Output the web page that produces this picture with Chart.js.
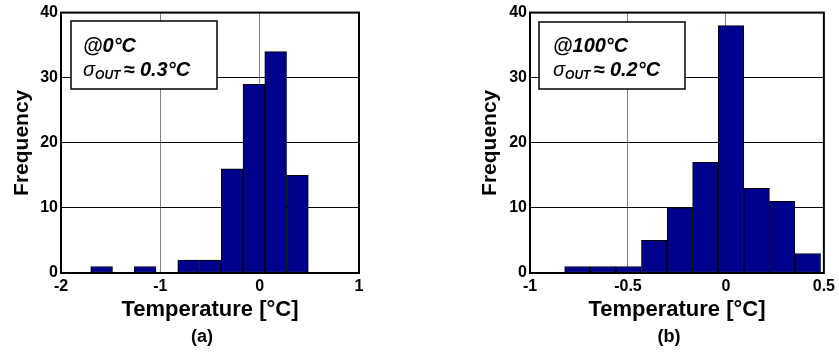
<!DOCTYPE html>
<html><head><meta charset="utf-8">
<script src="https://cdn.jsdelivr.net/npm/chart.js@4"></script>
<style>
html,body{margin:0;padding:0;background:#fff;width:839px;height:356px;overflow:hidden}
canvas{position:absolute;top:0}
#ca{left:0}
#cb{left:420px}
</style></head><body>
<canvas id="ca" width="420" height="356"></canvas>
<canvas id="cb" width="419" height="356"></canvas>
<script>
// ---- data ----
const binsA = [-1.591, -1.153, -0.715, -0.496, -0.277, -0.058, 0.161, 0.380];
const freqA = [1, 1, 2, 2, 16, 29, 34, 15];
const binsB = [-0.758, -0.627, -0.497, -0.366, -0.235, -0.105, 0.026, 0.157, 0.287, 0.418];
const freqB = [1, 1, 1, 5, 10, 17, 38, 13, 11, 3];
const xTicksA = [-2, -1, 0, 1];
const xTicksB = [-1, -0.5, 0, 0.5];
const yTicks = [0, 10, 20, 30, 40];
const xTitle = 'Temperature [°C]';
const yTitle = 'Frequency';
const condA = '@0°C', sigmaA = '0.3°C', captionA = '(a)';
const condB = '@100°C', sigmaB = '0.2°C', captionB = '(b)';

const FONT = '"Liberation Sans", Arial, Helvetica, sans-serif';
Chart.defaults.font.family = FONT;
Chart.defaults.color = '#000';

const framePlugin = {
  id: 'frame',
  afterDatasetsDraw(chart, args, o) {
    const ctx = chart.ctx, a = chart.chartArea;
    ctx.save();
    ctx.strokeStyle = '#000';
    ctx.lineWidth = 2;
    ctx.strokeRect(a.left, a.top, a.right - a.left, a.bottom - a.top);
    // annotation box
    ctx.fillStyle = '#fff';
    ctx.fillRect(o.bx, o.by, o.bw, o.bh);
    ctx.lineWidth = 1.5;
    ctx.strokeRect(o.bx, o.by, o.bw, o.bh);
    ctx.fillStyle = '#000';
    ctx.textAlign = 'left';
    ctx.textBaseline = 'alphabetic';
    ctx.font = 'italic bold 20px ' + FONT;
    ctx.fillText(o.cond, o.tx, o.b1);
    ctx.font = 'italic 20px ' + FONT;
    ctx.fillText('σ', o.tx, o.b2);
    let x = o.tx + ctx.measureText('σ').width;
    ctx.font = 'italic bold 12px ' + FONT;
    ctx.fillText('OUT', x, o.b2 + 3);
    x += ctx.measureText('OUT').width + 3;
    ctx.font = 'italic bold 20px ' + FONT;
    ctx.fillText('≈ ' + o.sigma, x, o.b2);
    // caption
    ctx.font = 'bold 18px ' + FONT;
    ctx.textAlign = 'center';
    ctx.textBaseline = 'middle';
    ctx.fillText(o.caption, o.cx, o.cy);
    ctx.restore();
  }
};

function makeChart(id, bins, freq, xTicks, pad, yW, ann) {
  return new Chart(document.getElementById(id), {
    type: 'bar',
    data: {
      datasets: [{
        data: bins.map((b, i) => ({x: b, y: freq[i]})),
        backgroundColor: 'rgb(0,0,143)',
        borderColor: '#000',
        borderWidth: 1,
        borderSkipped: false,
        barPercentage: 1,
        categoryPercentage: 1
      }]
    },
    options: {
      responsive: false,
      animation: false,
      layout: {padding: pad},
      plugins: {legend: {display: false}, tooltip: {enabled: false}, frame: ann},
      scales: {
        x: {
          type: 'linear',
          offset: false,
          min: xTicks[0],
          max: xTicks[xTicks.length - 1],
          afterBuildTicks: s => { s.ticks = xTicks.map(v => ({value: v})); },
          afterFit: s => { s.height = 83; },
          grid: {color: '#808080', lineWidth: 1, drawTicks: false, offset: false},
          border: {display: false},
          ticks: {font: {size: 16, weight: 'bold'}, padding: 4, maxRotation: 0, autoSkip: false,
                  callback: v => String(v)},
          title: {display: true, text: xTitle, font: {size: 22, weight: 'bold', lineHeight: 1},
                  padding: {top: 0, bottom: 35}}
        },
        y: {
          min: 0, max: 40,
          afterBuildTicks: s => { s.ticks = yTicks.map(v => ({value: v})); },
          afterFit: s => { s.width = yW; },
          grid: {color: '#000', lineWidth: 1, drawTicks: false},
          border: {display: false},
          ticks: {font: {size: 16, weight: 'bold'}, padding: 3},
          title: {display: true, text: yTitle, font: {size: 21, weight: 'bold', lineHeight: 1},
                  padding: 0}
        }
      }
    },
    plugins: [framePlugin]
  });
}

makeChart('ca', binsA, freqA, xTicksA, {left: 11.5, right: 61, top: 12, bottom: 0}, 49.5,
  {bx: 71, by: 21, bw: 146, bh: 68, tx: 83, b1: 52, b2: 76, cond: condA, sigma: sigmaA,
   caption: captionA, cx: 202, cy: 337});
makeChart('cb', binsB, freqB, xTicksB, {left: 59.5, right: 12, top: 12, bottom: 0}, 50.5,
  {bx: 119, by: 22, bw: 146, bh: 67, tx: 133, b1: 52, b2: 76, cond: condB, sigma: sigmaB,
   caption: captionB, cx: 249, cy: 337});
</script>
</body></html>
